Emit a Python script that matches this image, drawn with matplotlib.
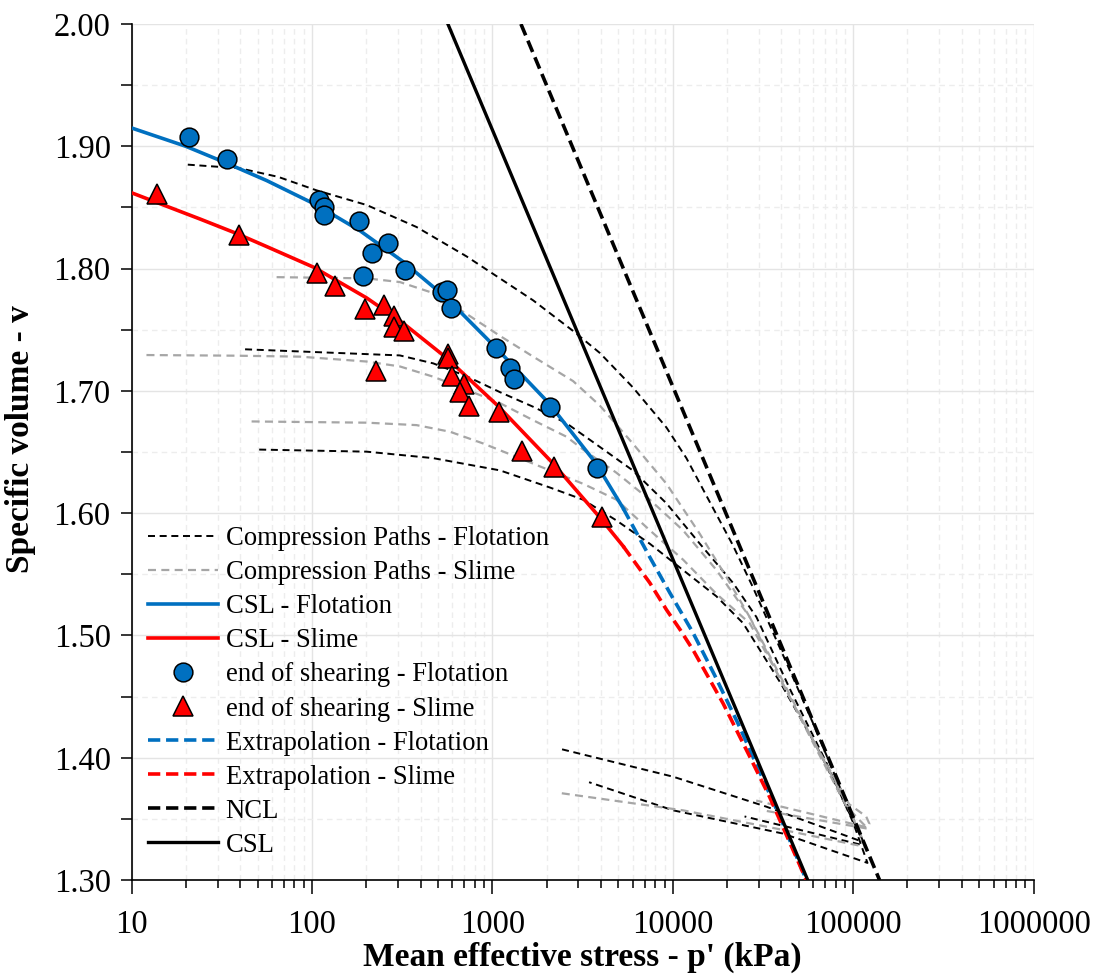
import matplotlib
matplotlib.use("Agg")
import matplotlib.pyplot as plt
from matplotlib.ticker import FixedLocator, FuncFormatter, LogLocator, MultipleLocator

plt.rcParams['font.family'] = ['Liberation Serif', 'DejaVu Serif']

# end of shearing points
flot_p = [20.9, 34, 110, 117, 117, 183, 214, 264, 191, 327, 525, 558, 589, 1042, 1248, 1320, 2094, 3802]
flot_v = [1.908, 1.890, 1.856, 1.850, 1.844, 1.839, 1.813, 1.821, 1.794, 1.799, 1.781, 1.7825, 1.768, 1.735, 1.719, 1.710, 1.687, 1.637]
slime_p = [13.8, 39.3, 106, 134, 196, 250, 284, 284, 325, 227, 571, 571, 596, 692, 662, 746, 1091, 1461, 2193, 4045]
slime_v = [1.861, 1.8275, 1.796, 1.786, 1.767, 1.770, 1.761, 1.7525, 1.749, 1.716, 1.730, 1.727, 1.712, 1.706, 1.699, 1.688, 1.683, 1.651, 1.638, 1.597]

# critical state lines
csl_flot_p = [10, 20, 32.7, 56.1, 106, 184.5, 318, 557, 1019, 2056, 3742, 5310]
csl_flot_v = [1.915, 1.900, 1.887, 1.872, 1.852, 1.831, 1.806, 1.776, 1.737, 1.690, 1.641, 1.604]
ext_flot_p = [5310, 7460, 9620, 12970, 17000, 23000, 30000, 40000, 55000]
ext_flot_v = [1.604, 1.564, 1.535, 1.502, 1.468, 1.428, 1.390, 1.349, 1.30]
csl_slime_p = [10, 24, 37.8, 56.1, 102.6, 201, 316, 557, 1069, 2159, 3943, 5310]
csl_slime_v = [1.862, 1.8405, 1.829, 1.818, 1.801, 1.776, 1.756, 1.727, 1.688, 1.641, 1.5965, 1.573]
ext_slime_p = [5310, 7460, 9230, 10950, 12970, 19000, 26700, 34400, 55000]
ext_slime_v = [1.573, 1.543, 1.521, 1.505, 1.488, 1.4445, 1.401, 1.368, 1.30]

ncl_p = [1440, 140000]
ncl_v = [2.00, 1.30]
csl_p = [567, 55970]
csl_v = [2.00, 1.30]

# compression paths - flotation
f1_p = [20.5, 39.9, 65, 106, 201, 380, 719, 1101, 1684, 2803, 3943, 6000, 9230, 11900, 15400, 21500, 27700, 35800, 45000, 60000, 90000, 114000, 33000, 10050, 2416]
f1_v = [1.885, 1.882, 1.875, 1.864, 1.852, 1.834, 1.810, 1.792, 1.774, 1.749, 1.731, 1.703, 1.670, 1.645, 1.614, 1.574, 1.540, 1.503, 1.470, 1.428, 1.366, 1.331, 1.360, 1.3845, 1.407]
f2_p = [42.6, 307, 470, 719, 1101, 1684, 2577, 3470, 6000, 9230, 14130, 21570, 29100, 45000, 70000, 100000, 120000, 40830, 10050, 3436]
f2_v = [1.734, 1.729, 1.7225, 1.712, 1.699, 1.687, 1.6735, 1.660, 1.635, 1.608, 1.575, 1.543, 1.515, 1.455, 1.398, 1.347, 1.314, 1.338, 1.357, 1.380]
f3_p = [51, 201, 470, 1101, 2083, 3186, 4878, 7460, 11400, 17460, 24550, 40000, 65000, 95000, 117000, 25000]
f3_v = [1.652, 1.6503, 1.645, 1.635, 1.621, 1.611, 1.594, 1.575, 1.5535, 1.532, 1.510, 1.460, 1.405, 1.355, 1.328, 1.352]

# compression paths - slime
s1_p = [63.7, 201, 307, 470, 719, 1101, 1684, 2803, 3943, 6000, 9230, 14130, 19800, 26700, 40000, 65000, 95000, 118000, 123000, 120000, 29000]
s1_v = [1.793, 1.792, 1.789, 1.780, 1.763, 1.745, 1.728, 1.708, 1.688, 1.657, 1.624, 1.583, 1.548, 1.515, 1.462, 1.405, 1.362, 1.352, 1.346, 1.343, 1.365]
s2_p = [12.1, 36.6, 85.8, 201, 307, 470, 719, 1101, 1684, 2577, 3186, 4878, 7460, 11400, 17460, 26700, 40000, 62000, 90000, 118000, 40830, 11400, 2416]
s2_v = [1.7293, 1.7288, 1.728, 1.724, 1.720, 1.7116, 1.701, 1.690, 1.676, 1.6625, 1.652, 1.633, 1.611, 1.586, 1.5535, 1.515, 1.465, 1.41, 1.365, 1.327, 1.341, 1.357, 1.371]
s3_p = [46.3, 201, 380, 582, 889, 1361, 2080, 3186, 4878, 7460, 11400, 17460, 26700, 40000, 62000, 92000, 120500, 31640]
s3_v = [1.675, 1.674, 1.672, 1.6666, 1.657, 1.646, 1.635, 1.624, 1.611, 1.586, 1.562, 1.534, 1.510, 1.463, 1.408, 1.36, 1.342, 1.357]

blue = '#0070C0'
red = '#FF0000'
grey = '#A6A6A6'
ext_dash = (0, (3.4, 1.6))
path_dash = (0, (3.6, 2.4))

fig = plt.figure(figsize=(10.97, 9.8), dpi=100)
ax = fig.add_axes([0.1199, 0.1020, 0.8223, 0.8735])

for i, (p, v) in enumerate([(f1_p, f1_v), (f2_p, f2_v), (f3_p, f3_v)]):
    ax.plot(p, v, color='black', lw=1.4, ls=path_dash,
            label='Compression Paths - Flotation' if i == 0 else None, zorder=3)
for i, (p, v) in enumerate([(s1_p, s1_v), (s2_p, s2_v), (s3_p, s3_v)]):
    ax.plot(p, v, color=grey, lw=1.6, ls=path_dash,
            label='Compression Paths - Slime' if i == 0 else None, zorder=3)

ax.plot(csl_flot_p, csl_flot_v, color=blue, lw=2.6, label='CSL - Flotation', zorder=4)
ax.plot(csl_slime_p, csl_slime_v, color=red, lw=2.6, label='CSL - Slime', zorder=4)
ax.plot(flot_p, flot_v, 'o', ms=13.5, mfc=blue, mec='black', mew=1.1,
        label='end of shearing - Flotation', zorder=6)
ax.plot(slime_p, slime_v, '^', ms=14, mfc=red, mec='black', mew=1.1,
        label='end of shearing - Slime', zorder=6)
ax.plot(ext_flot_p, ext_flot_v, color=blue, lw=2.6, ls=ext_dash, label='Extrapolation - Flotation', zorder=4)
ax.plot(ext_slime_p, ext_slime_v, color=red, lw=2.6, ls=ext_dash, label='Extrapolation - Slime', zorder=4)
ax.plot(ncl_p, ncl_v, color='black', lw=2.6, ls=ext_dash, label='NCL', zorder=5)
ax.plot(csl_p, csl_v, color='black', lw=2.4, label='CSL', zorder=5)

ax.set_xscale('log')
ax.set_xlim(10, 1e6)
ax.set_ylim(1.30, 2.00)
ax.xaxis.set_major_locator(FixedLocator([10, 100, 1000, 10000, 100000, 1000000]))
ax.xaxis.set_minor_locator(LogLocator(base=10, subs=range(2, 10), numticks=20))
ax.xaxis.set_major_formatter(FuncFormatter(lambda x, pos: f'{int(round(x))}'))
ax.xaxis.set_minor_formatter(FuncFormatter(lambda x, pos: ''))
ax.yaxis.set_major_locator(MultipleLocator(0.10))
ax.yaxis.set_minor_locator(MultipleLocator(0.05))
ax.yaxis.set_major_formatter(FuncFormatter(lambda y, pos: f'{y:.2f}'))

ax.grid(True, which='major', color='#E4E4E4', lw=1.0, ls='-', zorder=0)
ax.grid(True, which='minor', color='#EDEDED', lw=1.0, ls=(0, (4, 3)), zorder=0)
ax.set_axisbelow(True)

for s in ['top', 'right']:
    ax.spines[s].set_visible(False)
for s in ['left', 'bottom']:
    ax.spines[s].set_linewidth(1.2)

ax.tick_params(axis='both', which='major', direction='out', length=8, width=1.1, labelsize=23.5, pad=7)
ax.tick_params(axis='y', which='minor', direction='out', length=8, width=1.1)
ax.tick_params(axis='x', which='minor', direction='out', length=6, width=1.1)
ax.tick_params(axis='x', which='major', length=10, pad=11)

ax.set_xlabel("Mean effective stress - p' (kPa)", fontsize=24, fontweight='bold')
ax.set_ylabel('Specific volume - v', fontsize=24, fontweight='bold')
ax.xaxis.set_label_coords(0.5, -0.072)
ax.yaxis.set_label_coords(-0.106, 0.515)

leg = ax.legend(loc='lower left', bbox_to_anchor=(0.018, 0.026), frameon=False, fontsize=19.2,
                borderpad=0, borderaxespad=0, handlelength=2.62, handletextpad=0.3,
                labelspacing=0.34, numpoints=1)

fig.savefig('out.png', dpi=100)
